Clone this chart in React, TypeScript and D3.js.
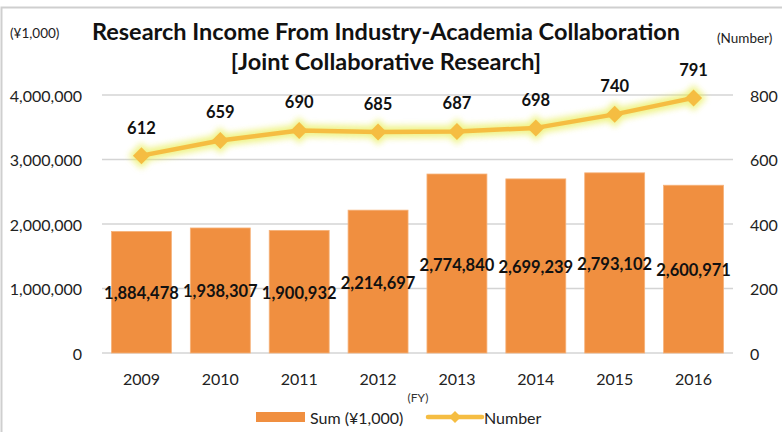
import React from "react";
import * as d3 from "d3";

const years = ["2009", "2010", "2011", "2012", "2013", "2014", "2015", "2016"];
const sums = [1884478, 1938307, 1900932, 2214697, 2774840, 2699239, 2793102, 2600971];
const counts = [612, 659, 690, 685, 687, 698, 740, 791];
const leftTicks = [0, 1000000, 2000000, 3000000, 4000000];
const rightTicks = [0, 200, 400, 600, 800];

const W = 782;
const H = 432;
const FONT = "Lato, 'Open Sans', sans-serif";

export default function App() {
  const plotL = 102, plotR = 733, plotT = 95, plotB = 353;
  const x = d3.scaleBand<string>().domain(years).range([plotL, plotR]).paddingInner(0.24).paddingOuter(0.12);
  const yL = d3.scaleLinear().domain([0, 4000000]).range([plotB, plotT]);
  const yR = d3.scaleLinear().domain([0, 800]).range([plotB, plotT]);
  const fmt = d3.format(",");
  const cx = (d: string) => (x(d) ?? 0) + x.bandwidth() / 2;
  const pts: [number, number][] = years.map((y, i) => [cx(y), yR(counts[i])]);
  const line = d3.line()(pts) ?? "";
  const diamond = (px: number, py: number, r: number) =>
    `M${px},${py - r}L${px + r},${py}L${px},${py + r}L${px - r},${py}Z`;

  return (
    <svg width={W} height={H} style={{ display: "block", position: "absolute", left: 0, top: 0 }} fontFamily={FONT}>
      <defs>
        <filter id="glow" x="-20%" y="-50%" width="140%" height="200%">
          <feGaussianBlur stdDeviation="3" />
        </filter>
      </defs>
      <rect x={0} y={0} width={W} height={H} fill="#fff" />
      <rect x={1.5} y={7.5} width={W + 20} height={H + 20} fill="none" stroke="#cfcfcf" strokeWidth={2} />

      {/* gridlines */}
      {leftTicks.map((t) => (
        <line key={t} x1={plotL} x2={plotR} y1={yL(t)} y2={yL(t)} stroke="#d4d4d4" strokeWidth={1.5} />
      ))}

      {/* bars */}
      {years.map((y, i) => (
        <rect key={y} x={x(y)} y={yL(sums[i])} width={x.bandwidth()} height={plotB - yL(sums[i])}
          fill="#F08F40" stroke="#F6B27A" strokeWidth={0.8} />
      ))}

      {/* left axis labels */}
      {leftTicks.map((t) => (
        <text key={t} x={82} y={yL(t)} textAnchor="end" dominantBaseline="central" fontSize={16} fill="#222">
          {fmt(t)}
        </text>
      ))}
      {/* right axis labels */}
      {rightTicks.map((t) => (
        <text key={t} x={750} y={yR(t)} textAnchor="start" dominantBaseline="central" fontSize={16} fill="#222">
          {t}
        </text>
      ))}
      {/* x labels */}
      {years.map((y) => (
        <text key={y} x={cx(y)} y={378} textAnchor="middle" dominantBaseline="central" fontSize={16} fill="#222">
          {y}
        </text>
      ))}
      <text x={418} y={397} textAnchor="middle" dominantBaseline="central" fontSize={12} fill="#333">(FY)</text>

      {/* bar value labels */}
      {years.map((y, i) => (
        <text key={y} x={cx(y)} y={yL(sums[i] / 2) + 1} textAnchor="middle" dominantBaseline="central"
          fontSize={16.5} fontWeight="bold" fill="#111">
          {fmt(sums[i])}
        </text>
      ))}

      {/* line glow */}
      <g filter="url(#glow)" opacity={0.7}>
        <path d={line} fill="none" stroke="#E8EE55" strokeWidth={12} strokeLinejoin="round" />
        {pts.map(([px, py], i) => (
          <path key={i} d={diamond(px, py, 13)} fill="#E8EE55" />
        ))}
      </g>
      <path d={line} fill="none" stroke="#F5BD42" strokeWidth={4.5} strokeLinejoin="round" />
      {pts.map(([px, py], i) => (
        <path key={i} d={diamond(px, py, 8.5)} fill="#F5BD42" />
      ))}

      {/* count labels */}
      {years.map((y, i) => (
        <text key={y} x={cx(y)} y={yR(counts[i]) - 28} textAnchor="middle" dominantBaseline="central"
          fontSize={16.5} fontWeight="bold" fill="#111">
          {counts[i]}
        </text>
      ))}

      {/* titles */}
      <text x={386} y={31} textAnchor="middle" dominantBaseline="central" fontSize={23.5} fontWeight="bold" fill="#111">
        Research Income From Industry-Academia Collaboration
      </text>
      <text x={386} y={61} textAnchor="middle" dominantBaseline="central" fontSize={23.5} fontWeight="bold" fill="#111">
        [Joint Collaborative Research]
      </text>
      <text x={10} y={33} dominantBaseline="central" fontSize={13.5} fill="#222">(¥1,000)</text>
      <text x={717} y={38} dominantBaseline="central" fontSize={13.5} fill="#222">(Number)</text>

      {/* legend */}
      <rect x={256} y={412} width={49} height={10} fill="#F08F40" />
      <text x={310} y={417} dominantBaseline="central" fontSize={16} fill="#222">Sum (¥1,000)</text>
      <line x1={428} x2={482} y1={417} y2={417} stroke="#F5BD42" strokeWidth={4.5} strokeLinecap="round" />
      <path d={diamond(455, 417, 6)} fill="#F5BD42" />
      <text x={484} y={417} dominantBaseline="central" fontSize={16} fill="#222">Number</text>
    </svg>
  );
}
